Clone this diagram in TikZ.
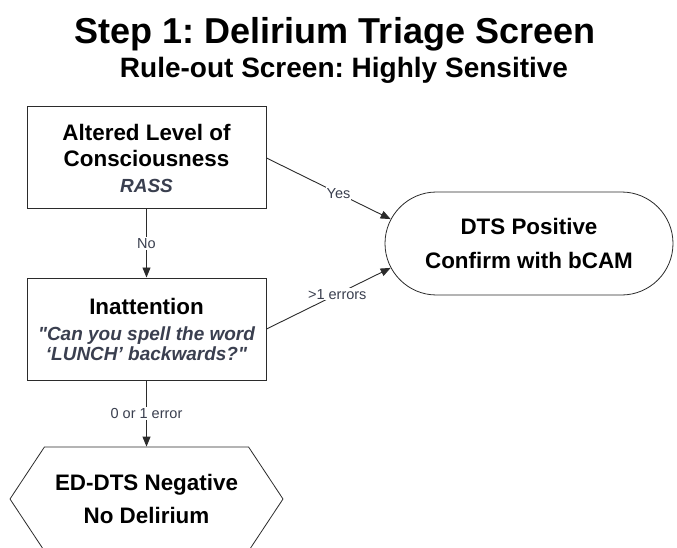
\documentclass[tikz,border=0pt]{standalone}
\usepackage{fontspec}
\setmainfont{Liberation Sans}
\usetikzlibrary{positioning,shapes.misc,shapes.symbols,arrows.meta}
\frenchspacing

\definecolor{inkline}{HTML}{2B2B2B}
\definecolor{inkquote}{HTML}{3A3F4F}

\tikzset{
  box/.style={draw=inkline, line width=1pt, minimum width=239pt, minimum height=102pt, align=center, inner sep=0pt},
  pill/.style={draw=inkline, line width=0.8pt, rounded rectangle, minimum width=288pt, minimum height=103pt, align=center, inner sep=0pt},
  hexa/.style={draw=inkline, line width=0.8pt, signal, signal to=west and east, signal pointer angle=113, minimum width=273pt, minimum height=104pt, align=center, inner sep=0pt},
  lbl/.style={fill=white, inner sep=1pt, text=inkquote, font=\fontsize{14.5}{16}\selectfont},
  arr/.style={draw=inkline, line width=0.9pt, -{Triangle[length=10pt,width=8pt]}}
}
\newcommand{\bigbf}{\fontsize{22.4}{26}\selectfont\bfseries}
\newcommand{\quotetxt}[1]{{\fontsize{19}{20}\selectfont\itshape\color{inkquote}#1}}

\begin{document}
\begin{tikzpicture}[x=1pt,y=-1pt]
  \useasboundingbox (0,0) rectangle (677,548);
  \clip (0,0) rectangle (677,548);

  % titles
  \node[anchor=base] (title) at (335,44) {\fontsize{36}{40}\selectfont\bfseries Step 1: Delirium Triage Screen};
  \node[anchor=base] (subtitle) at (344,78) {\fontsize{28}{32}\selectfont\bfseries Rule-out Screen: Highly Sensitive};

  % screen steps
  \node[box, font=\bigbf] (alc) at (146.5,158) {Altered Level of\\Consciousness\\\quotetxt{RASS}};
  \node[box, font=\bigbf] (inatt) at (146.5,329) {Inattention\\\quotetxt{\textquotedbl Can you spell the word}\\[-6pt]\quotetxt{`LUNCH' backwards?\textquotedbl}};

  % outcomes
  \node[pill, font=\fontsize{22.4}{34}\selectfont\bfseries] (pos) at (529,243.5) {DTS Positive\\Confirm with bCAM};
  \node[hexa, font=\fontsize{22.4}{33}\selectfont\bfseries] (neg) at (146.5,499) {ED-DTS Negative\\No Delirium};

  % arrows
  \draw[arr] (alc) -- (inatt) node[lbl, midway] {No};
  \draw[arr] (alc.east) -- (pos.170) node[lbl, pos=0.58] {Yes};
  \draw[arr] (inatt.east) -- (pos.190) node[lbl, pos=0.57] {>1 errors};
  \draw[arr] (inatt) -- (neg) node[lbl, midway] {0 or 1 error};
\end{tikzpicture}
\end{document}
